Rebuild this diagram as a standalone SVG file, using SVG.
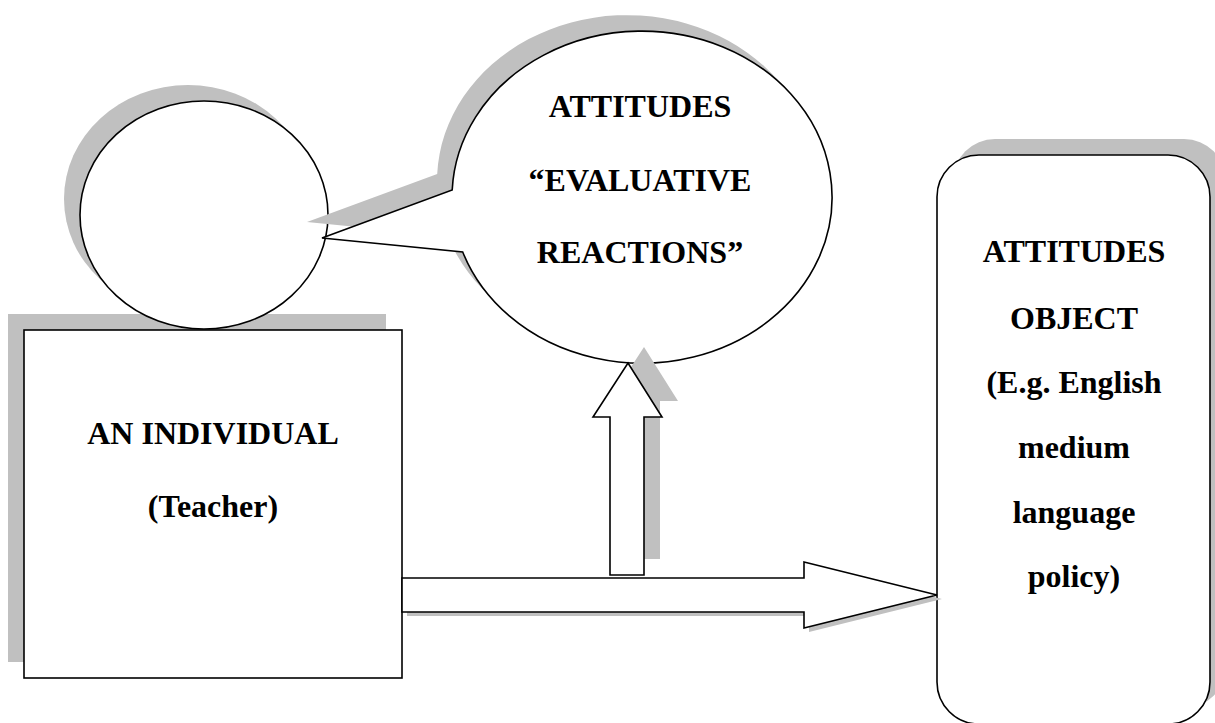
<svg xmlns="http://www.w3.org/2000/svg" width="1215" height="723" viewBox="0 0 1215 723">
  <style>
    .shape { fill: #ffffff; stroke: #000000; stroke-width: 1.6; stroke-linejoin: miter; }
    .shadow { fill: #c0c0c0; stroke: none; }
    text { font-weight: bold; font-size: 32px; fill: #000000; text-anchor: middle; }
  </style>
  <rect width="1215" height="723" fill="#ffffff"/>

  <g id="node-individual">
    <rect class="shadow" x="8" y="314" width="378" height="348"/>
    <rect class="shape" x="24" y="330" width="378" height="348"/>
    <g font-family="Liberation Serif, serif">
      <text x="213" y="444">AN INDIVIDUAL</text>
      <text x="213" y="517">(Teacher)</text>
    </g>
  </g>

  <g id="node-head">
    <ellipse class="shadow" cx="188" cy="199" rx="124" ry="114"/>
    <ellipse class="shape" cx="204" cy="215" rx="124" ry="114"/>
  </g>

  <g id="node-attitudes-bubble">
    <path class="shadow" transform="translate(-15,-16)" d="M 462.7 252 A 190 166 0 1 0 452.2 190 L 322 238 Z"/>
    <path class="shape" d="M 462.7 252 A 190 166 0 1 0 452.2 190 L 322 238 Z"/>
    <g font-family="Liberation Serif, serif">
      <text x="640" y="117">ATTITUDES</text>
      <text x="640" y="191">“EVALUATIVE</text>
      <text x="640" y="263">REACTIONS”</text>
    </g>
  </g>

  <g id="node-attitude-object">
    <rect class="shadow" x="953" y="139" width="273" height="569" rx="42" ry="42"/>
    <rect class="shape" x="937" y="155" width="273" height="569" rx="42" ry="42"/>
    <g font-family="Liberation Serif, serif">
      <text x="1074" y="262">ATTITUDES</text>
      <text x="1074" y="329">OBJECT</text>
      <text x="1074" y="393">(E.g. English</text>
      <text x="1074" y="458">medium</text>
      <text x="1074" y="523">language</text>
      <text x="1074" y="587">policy)</text>
    </g>
  </g>

  <g id="connectors">
    <path class="shadow" transform="translate(5,4)" d="M 402 578 L 804 578 L 804 562 L 937 595 L 804 628 L 804 612 L 402 612 Z"/>
    <path class="shape" d="M 402 578 L 804 578 L 804 562 L 937 595 L 804 628 L 804 612 L 402 612 Z"/>
    <path class="shadow" transform="translate(16,-16)" d="M 610 575 L 610 417 L 593 417 L 628 363 L 662 417 L 644 417 L 644 575 Z"/>
    <path class="shape" d="M 610 575 L 610 417 L 593 417 L 628 363 L 662 417 L 644 417 L 644 575 Z"/>
  </g>
</svg>
